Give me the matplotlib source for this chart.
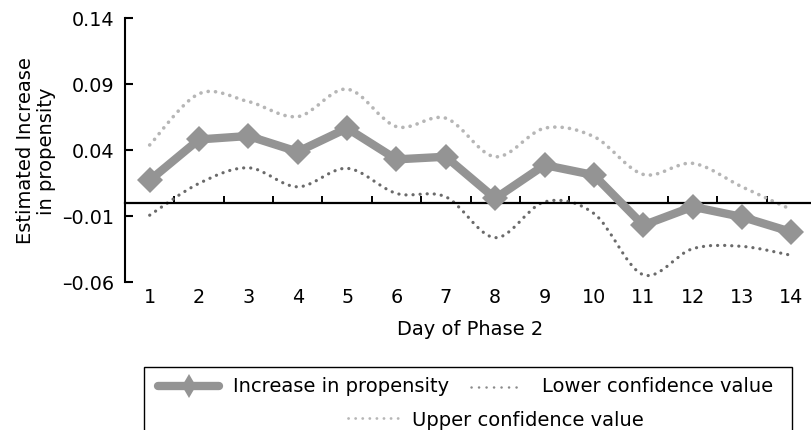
import numpy as np
import matplotlib
matplotlib.use("Agg")
import matplotlib.pyplot as plt
from matplotlib.path import Path
from matplotlib.patches import PathPatch, Rectangle
from matplotlib.lines import Line2D

# ---- data ----
days = [1, 2, 3, 4, 5, 6, 7, 8, 9, 10, 11, 12, 13, 14]
increase = [0.017, 0.048, 0.0506, 0.0387, 0.0565, 0.0329, 0.0349, 0.0033,
            0.0286, 0.021, -0.017, -0.003, -0.0107, -0.0221]
lower = [-0.0094, 0.0147, 0.0265, 0.0121, 0.0261, 0.0071, 0.0045, -0.0264,
         0.0007, -0.0081, -0.0545, -0.0348, -0.033, -0.0398]
upper = [0.0438, 0.0826, 0.0767, 0.0653, 0.0861, 0.0577, 0.0641, 0.0349,
         0.0565, 0.0501, 0.0215, 0.0299, 0.0121, -0.0051]
y_ticks = [-0.06, -0.01, 0.04, 0.09, 0.14]
x_label = "Day of Phase 2"
y_label = "Estimated Increase\nin propensity"
legend_labels = ["Increase in propensity", "Lower confidence value", "Upper confidence value"]

plt.rcParams['font.family'] = ['DejaVu Sans']
plt.rcParams['lines.scale_dashes'] = False

W, H = 811, 431
fig = plt.figure(figsize=(W / 100, H / 100), dpi=100)

def fx(px):
    return px / W

def fy(py):
    return 1 - py / H

ax_l, ax_r, ax_t, ax_b = 125, 816, 19, 283
ax = fig.add_axes([fx(ax_l), fy(ax_b), (ax_r - ax_l) / W, (ax_b - ax_t) / H])
ax.set_xlim(0.5, 14.5)
ax.set_ylim(-0.06, 0.14)

MAIN_C = '#949494'
LOW_C = '#6a6a6a'
UP_C = '#b6b6b6'


def smooth_path(xs, ys):
    pts = np.column_stack([xs, ys]).astype(float)
    n = len(pts)
    verts = [pts[0]]
    codes = [Path.MOVETO]
    for i in range(n - 1):
        p0 = pts[i - 1] if i > 0 else pts[i]
        p1 = pts[i]
        p2 = pts[i + 1]
        p3 = pts[i + 2] if i + 2 < n else pts[i + 1]
        c1 = p1 + (p2 - p0) / 6.0
        c2 = p2 - (p3 - p1) / 6.0
        verts += [c1, c2, p2]
        codes += [Path.CURVE4] * 3
    return Path(verts, codes)


for series, col, lw, dash in [(upper, UP_C, 2.6, (0, (0.1, 5.2))),
                              (lower, LOW_C, 2.3, (0, (0.1, 5.0)))]:
    patch = PathPatch(smooth_path(days, series), fill=False, edgecolor=col,
                      linewidth=lw, linestyle=dash, capstyle='round', zorder=2)
    ax.add_patch(patch)

ax.plot(days, increase, color=MAIN_C, linewidth=6.0, marker='D', markersize=12.8,
        markeredgewidth=0, solid_joinstyle='miter', zorder=3)

# spines
for s in ['top', 'right']:
    ax.spines[s].set_visible(False)
ax.spines['left'].set_linewidth(1.5)
ax.spines['bottom'].set_linewidth(1.6)
ax.spines['bottom'].set_position(('data', 0))

ax.set_yticks(y_ticks)
ax.set_yticklabels([f"{v:.2f}".replace('-', '\u2013') for v in y_ticks])
ax.tick_params(axis='y', direction='in', length=5.8, width=1.5, pad=7.5,
               labelsize=13.8, colors='black')

ax.set_xticks([d + 0.5 for d in days[:-1]])
ax.tick_params(axis='x', direction='in', length=5.2, width=1.4, labelbottom=False)

sec = ax.secondary_xaxis('bottom')
sec.set_xticks(days)
sec.set_xticklabels([str(d) for d in days])
sec.tick_params(length=0, pad=3.5, labelsize=13.8)
sec.spines['bottom'].set_visible(False)

# axis labels
fig.text(fx((ax_l + ax_r) / 2), fy(330), x_label, ha='center', va='center', fontsize=14)
fig.text(fx(36), fy(151), y_label, ha='center', va='center', rotation=90,
         fontsize=14, multialignment='center', linespacing=1.15)

# legend (manual)
fig.add_artist(Rectangle((fx(144), fy(440)), fx(792) - fx(144), fy(368) - fy(440),
                         transform=fig.transFigure, fill=False, edgecolor='black',
                         linewidth=1.0))
r1, r2 = 387, 419
fig.add_artist(Line2D([fx(158), fx(219)], [fy(r1), fy(r1)], transform=fig.transFigure,
                      color=MAIN_C, linewidth=6.0, solid_capstyle='round'))
fig.add_artist(Line2D([fx(188.5)], [fy(r1)], transform=fig.transFigure, color=MAIN_C,
                      marker='d', markersize=12.5, markeredgewidth=0, linestyle='none'))
fig.text(fx(233), fy(r1), legend_labels[0], ha='left', va='center', fontsize=14)
fig.add_artist(Line2D([fx(471), fx(523)], [fy(r1 + 1), fy(r1 + 1)], transform=fig.transFigure,
                      color='#8a8a8a', linewidth=1.8, linestyle=(0, (0.1, 5.3)),
                      dash_capstyle='round'))
fig.text(fx(542), fy(r1), legend_labels[1], ha='left', va='center', fontsize=14)
fig.add_artist(Line2D([fx(348), fx(398)], [fy(r2), fy(r2)], transform=fig.transFigure,
                      color=UP_C, linewidth=2.0, linestyle=(0, (0.1, 5.0)),
                      dash_capstyle='round'))
fig.text(fx(412), fy(r2 + 2), legend_labels[2], ha='left', va='center', fontsize=14)

fig.savefig('out.png', dpi=100)
